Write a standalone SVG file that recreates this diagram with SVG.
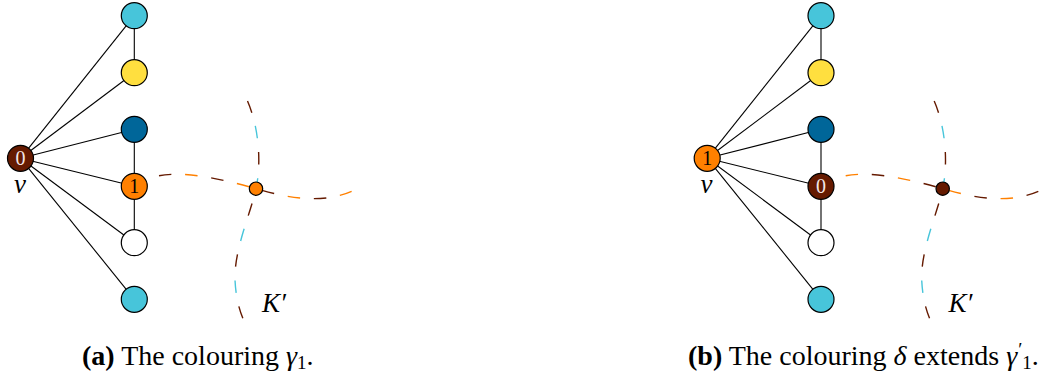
<svg xmlns="http://www.w3.org/2000/svg" width="1053" height="379" viewBox="0 0 1053 379">
<style>
.n{stroke:#000;stroke-width:1.2}
.e{stroke:#000;stroke-width:1.1;fill:none}
.d{fill:none;stroke-width:1.4;stroke-dasharray:12.5 40}
.br{stroke:#651a00}.or{stroke:#ff8000}.cy{stroke:#47c5da}
.off{stroke-dashoffset:26.25}
.lab{font-family:"Liberation Serif",serif;font-size:20px;text-anchor:middle}
.it{font-family:"Liberation Serif",serif;font-style:italic;font-size:27px}
.cap{font-family:"Liberation Serif",serif;font-size:28px}
</style>
<defs>
<path id="hc" d="M159 175.8 C185 170.5,226 180,256 188.7 C286 197.5,322 205,353.5 190.5"/>
<path id="vc" d="M247.5 101 C258 125,262 160,256 189 C250 215,234 250,235 280 C236 300,240 312,244 321"/>
</defs>
<g id="connectors">
<g id="edges-a">
<line class="e" x1="20.5" y1="158.3" x2="134.3" y2="15.7"/>
<line class="e" x1="20.5" y1="158.3" x2="134.3" y2="72.7"/>
<line class="e" x1="20.5" y1="158.3" x2="134.3" y2="129.3"/>
<line class="e" x1="20.5" y1="158.3" x2="134.3" y2="186.3"/>
<line class="e" x1="20.5" y1="158.3" x2="134.3" y2="242.7"/>
<line class="e" x1="20.5" y1="158.3" x2="134.3" y2="299.3"/>
<line class="e" x1="134.3" y1="15.7" x2="134.3" y2="72.7"/>
<line class="e" x1="134.3" y1="129.3" x2="134.3" y2="242.7"/>
</g>
<g id="edges-b" transform="translate(686.7 0)">
<line class="e" x1="20.5" y1="158.3" x2="134.3" y2="15.7"/>
<line class="e" x1="20.5" y1="158.3" x2="134.3" y2="72.7"/>
<line class="e" x1="20.5" y1="158.3" x2="134.3" y2="129.3"/>
<line class="e" x1="20.5" y1="158.3" x2="134.3" y2="186.3"/>
<line class="e" x1="20.5" y1="158.3" x2="134.3" y2="242.7"/>
<line class="e" x1="20.5" y1="158.3" x2="134.3" y2="299.3"/>
<line class="e" x1="134.3" y1="15.7" x2="134.3" y2="72.7"/>
<line class="e" x1="134.3" y1="129.3" x2="134.3" y2="242.7"/>
</g>
<g id="curves-a">
<use href="#hc" class="d br"/>
<use href="#hc" class="d or off"/>
<use href="#vc" class="d br"/>
<use href="#vc" class="d cy off"/>
</g>
<g id="curves-b" transform="translate(686.7 0)">
<use href="#hc" class="d or"/>
<use href="#hc" class="d br off"/>
<use href="#vc" class="d br"/>
<use href="#vc" class="d cy off"/>
</g>
</g>
<g id="a-v"><circle class="n" cx="20.5" cy="158.3" r="13" fill="#651a00"/><text class="lab" x="20.5" y="165.3" fill="#f3e6e6">0</text></g>
<g id="a-n1"><circle class="n" cx="134.3" cy="15.7" r="13" fill="#47c5da"/></g>
<g id="a-n2"><circle class="n" cx="134.3" cy="72.7" r="13" fill="#ffdf3f"/></g>
<g id="a-n3"><circle class="n" cx="134.3" cy="129.3" r="13" fill="#006699"/></g>
<g id="a-n4"><circle class="n" cx="134.3" cy="186.3" r="13" fill="#ff8000"/><text class="lab" x="134.3" y="193.3" fill="#000">1</text></g>
<g id="a-n5"><circle class="n" cx="134.3" cy="242.7" r="13" fill="#fff"/></g>
<g id="a-n6"><circle class="n" cx="134.3" cy="299.3" r="13" fill="#47c5da"/></g>
<g id="a-x"><circle class="n" cx="256" cy="188.7" r="6.7" fill="#ff8000"/></g>
<text class="it" x="14" y="193">v</text>
<text class="it" x="262" y="312">K′</text>

<g id="b-v"><circle class="n" cx="707.2" cy="158.3" r="13" fill="#ff8000"/><text class="lab" x="707.2" y="165.3" fill="#000">1</text></g>
<g id="b-n1"><circle class="n" cx="821" cy="15.7" r="13" fill="#47c5da"/></g>
<g id="b-n2"><circle class="n" cx="821" cy="72.7" r="13" fill="#ffdf3f"/></g>
<g id="b-n3"><circle class="n" cx="821" cy="129.3" r="13" fill="#006699"/></g>
<g id="b-n4"><circle class="n" cx="821" cy="186.3" r="13" fill="#651a00"/><text class="lab" x="821" y="193.3" fill="#f3e6e6">0</text></g>
<g id="b-n5"><circle class="n" cx="821" cy="242.7" r="13" fill="#fff"/></g>
<g id="b-n6"><circle class="n" cx="821" cy="299.3" r="13" fill="#47c5da"/></g>
<g id="b-x"><circle class="n" cx="942.7" cy="188.7" r="6.7" fill="#651a00"/></g>
<text class="it" x="700.5" y="193">v</text>
<text class="it" x="948.5" y="312">K′</text>

<text class="cap" x="82" y="365"><tspan font-weight="bold">(a)</tspan> The colouring <tspan font-style="italic">γ</tspan><tspan font-size="19" dy="4">1</tspan><tspan dy="-4">.</tspan></text>
<text class="cap" x="688" y="365"><tspan font-weight="bold">(b)</tspan> The colouring <tspan font-style="italic">δ</tspan> extends <tspan font-style="italic">γ</tspan><tspan font-size="19" dx="1" dy="-9">′</tspan><tspan font-size="19" dx="0" dy="13">1</tspan><tspan dy="-4">.</tspan></text>
</svg>
